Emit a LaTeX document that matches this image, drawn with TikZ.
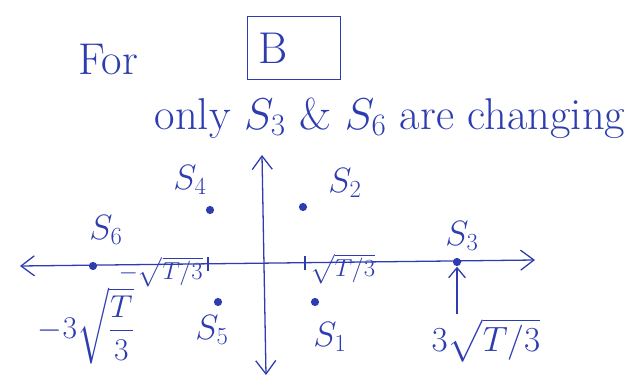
\RequirePackage{fix-cm}
\documentclass[tikz,border=0pt]{standalone}
\usepackage{amsmath,amssymb}
\usepackage{xcolor}
\usetikzlibrary{arrows.meta,positioning}
\definecolor{pen}{RGB}{45,60,175}

\begin{document}
\begin{tikzpicture}[x=0.03cm, y=-0.03cm, pen, line width=1.1pt,
  txt/.style={text=pen, font=\fontsize{38}{44}\selectfont},
  lbl/.style={text=pen, font=\fontsize{30}{34}\selectfont},
  tck/.style={text=pen, font=\fontsize{21}{24}\selectfont, inner sep=1pt},
  pt/.style={circle, fill=pen, inner sep=0pt, minimum size=7pt},
  axis/.style={{Straight Barb[length=4mm,width=6mm]}-{Straight Barb[length=4mm,width=6mm]}}]
\useasboundingbox (0,0) rectangle (637,392);
% ================= heading =================
\node[txt] (for) at (108,60) {For};
\node[draw=pen, minimum width=2.8cm, minimum height=1.9cm] (boxB) at (294,48) {};
\node[txt, anchor=west] (B) at ([xshift=6pt]boxB.west) {B};
\node[txt] (note) at (390,118) {only $S_3$ \& $S_6$ are changing};
% ================= axes =================
\coordinate (xl) at (20,266);
\coordinate (xr) at (535,260);
\coordinate (yt) at (262,155);
\coordinate (yb) at (266,375);
\draw[axis] (xl) -- (xr);
\draw[axis] (yb) -- (yt);
% ticks
\coordinate (tl) at (208,264);
\coordinate (tr) at (305,263);
\draw (tl) ++(0,-7) -- ++(0,14);
\draw (tr) ++(0,-7) -- ++(0,14);
\node[tck, anchor=east] (tlab) at ([xshift=-3pt,yshift=-7pt]tl) {$-\sqrt{T/3}$};
\node[tck, anchor=west] (trlab) at ([xshift=3pt,yshift=-5pt]tr) {$\sqrt{T/3}$};
% ================= points =================
\foreach \n/\x/\y in {1/315/302, 2/303/207, 3/457/262, 4/210/210, 5/218/302, 6/93/266}
  \node[pt] (s\n) at (\x,\y) {};
\node[lbl] (l1) at (330,337) {$S_1$};
\node[lbl] (l2) at (345,183) {$S_2$};
\node[lbl] (l3) at (462,236) {$S_3$};
\node[lbl] (l4) at (190,180) {$S_4$};
\node[lbl] (l5) at (212,330) {$S_5$};
\node[lbl] (l6) at (106,230) {$S_6$};
% ================= values =================
\node[lbl, font=\fontsize{27}{30}\selectfont, inner sep=0pt] (v6) at (86,326) {$-3\sqrt{\dfrac{T}{3}}$};
\node[lbl] (v3) at (486,340) {$3\sqrt{T/3}$};
\draw[-{Straight Barb[length=3mm,width=5mm]}] (v3.north -| s3) -- (s3.south);
\end{tikzpicture}
\end{document}
